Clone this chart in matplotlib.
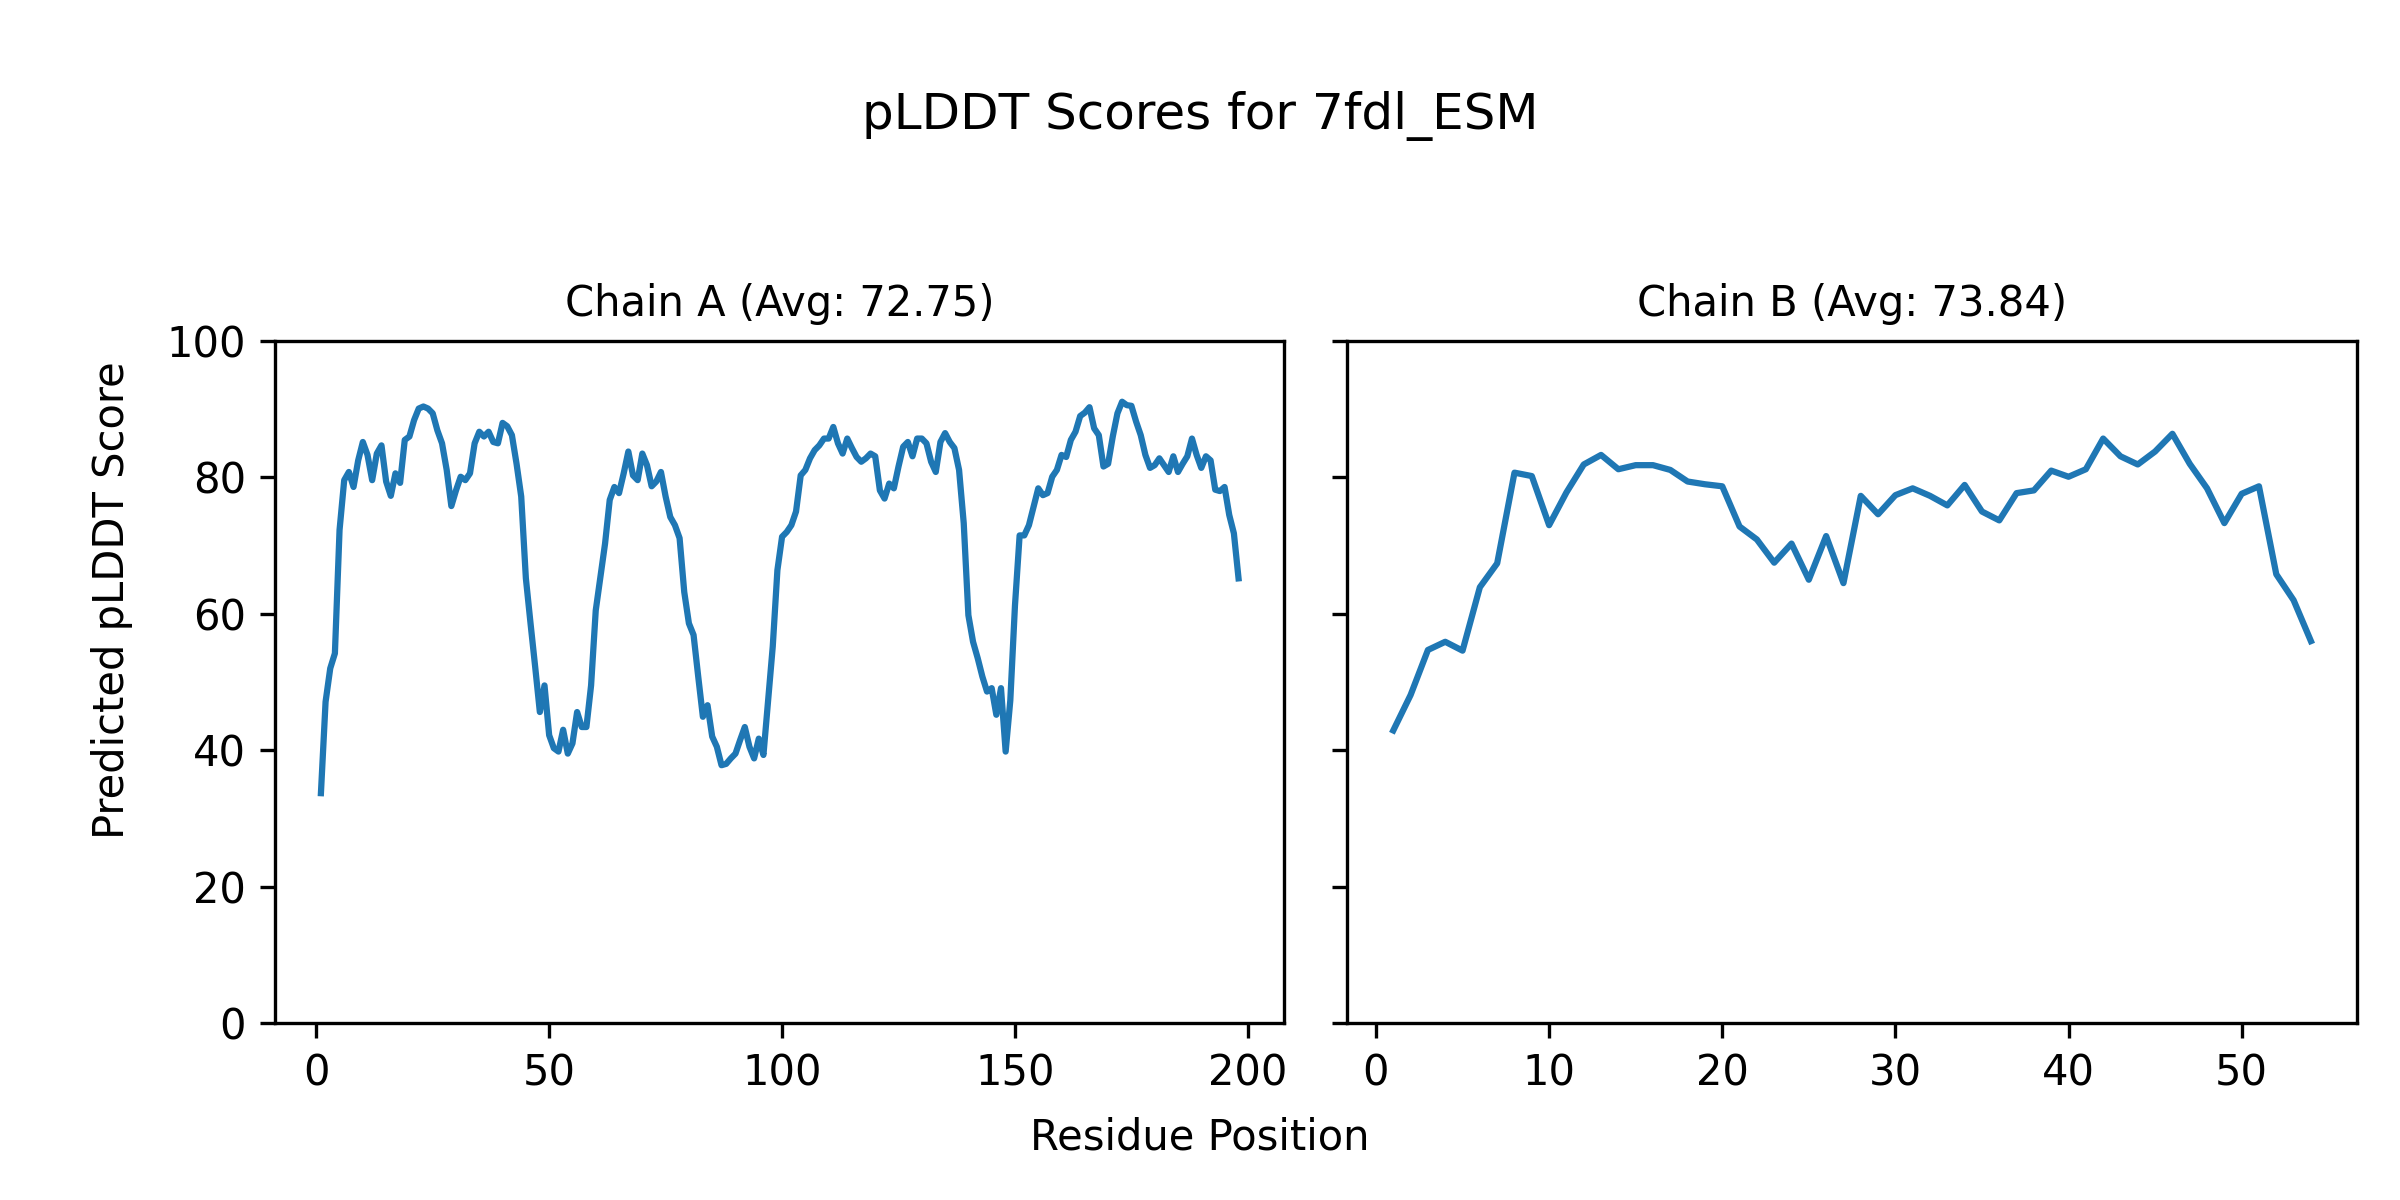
"""pLDDT por residuo para 7fdl_ESM, cadeias A e B lado a lado."""
import matplotlib

matplotlib.use("Agg")
import matplotlib.pyplot as plt
import numpy as np

NOME = "7fdl_ESM"

# cadeia A: residuos 1..198
plddt_a = [
    33.7, 47.1, 52.0, 54.2, 72.3, 79.6, 80.8, 78.6, 82.5, 85.2,
    83.3, 79.6, 83.5, 84.7, 79.4, 77.3, 80.6, 79.2, 85.5, 86.0,
    88.4, 90.1, 90.4, 90.1, 89.4, 86.9, 85.0, 81.1, 75.8, 78.1,
    80.1, 79.6, 80.6, 85.0, 86.7, 86.0, 86.7, 85.2, 85.0, 88.0,
    87.5, 86.2, 82.0, 77.2, 65.2, 58.6, 52.2, 45.6, 49.5, 42.2,
    40.3, 39.8, 43.0, 39.5, 41.0, 45.6, 43.4, 43.4, 49.5, 60.5,
    65.4, 70.3, 76.7, 78.6, 77.7, 80.6, 83.8, 80.3, 79.6, 83.5,
    81.8, 78.7, 79.4, 80.8, 77.2, 74.2, 73.0, 71.1, 63.2, 58.6,
    56.9, 50.8, 44.9, 46.6, 42.0, 40.5, 37.8, 38.0, 38.8, 39.5,
    41.5, 43.4, 40.5, 38.8, 41.7, 39.3, 47.3, 55.2, 66.4, 71.3,
    72.0, 73.0, 75.0, 80.3, 81.1, 82.8, 84.0, 84.7, 85.7, 85.7,
    87.4, 85.0, 83.5, 85.7, 84.3, 83.0, 82.3, 82.8, 83.5, 83.1,
    78.1, 76.9, 79.1, 78.4, 81.6, 84.5, 85.2, 83.1, 85.7, 85.7,
    85.0, 82.3, 80.8, 85.2, 86.5, 85.2, 84.3, 81.1, 73.3, 59.8,
    55.9, 53.5, 50.8, 48.6, 49.1, 45.2, 49.1, 39.8, 47.3, 61.2,
    71.5, 71.5, 73.0, 75.7, 78.4, 77.4, 77.7, 80.1, 81.1, 83.3,
    83.0, 85.5, 86.7, 89.0, 89.5, 90.3, 87.2, 86.2, 81.6, 82.0,
    86.0, 89.4, 91.1, 90.6, 90.5, 88.2, 86.2, 83.3, 81.4, 81.8,
    82.8, 81.8, 80.8, 83.1, 80.8, 82.0, 83.1, 85.7, 83.3, 81.4,
    83.1, 82.5, 78.2, 78.0, 78.6, 74.5, 71.8, 65.2,
]

# cadeia B: residuos 1..54
plddt_b = [
    42.9, 48.1, 54.7, 55.9, 54.6, 63.9, 67.4, 80.7, 80.2, 73.0,
    77.8, 81.9, 83.3, 81.2, 81.8, 81.8, 81.1, 79.4, 79.0, 78.7,
    72.8, 70.9, 67.5, 70.3, 65.0, 71.4, 64.5, 77.3, 74.6, 77.4,
    78.4, 77.3, 75.9, 78.9, 75.0, 73.7, 77.7, 78.1, 81.0, 80.1,
    81.2, 85.7, 83.1, 81.9, 83.8, 86.4, 82.0, 78.4, 73.3, 77.6,
    78.7, 65.8, 62.0, 56.0,
]

cadeias = ["A", "B"]
medias = [72.75, 73.84]


def main() -> None:
    fig, axes = plt.subplots(1, 2, figsize=(8, 4), dpi=300, sharey=True)
    for ax, cadeia, valores, media in zip(axes, cadeias, [plddt_a, plddt_b], medias):
        pos = np.arange(1, len(valores) + 1)
        ax.plot(pos, valores, color="#1f77b4", linewidth=1.5)
        ax.set_title(f"Chain {cadeia} (Avg: {media:.2f})", fontsize=10)
        ax.set_ylim(0, 100)
    fig.suptitle(f"pLDDT Scores for {NOME}", fontsize=12, y=0.903, va="center")
    fig.supxlabel("Residue Position", fontsize=10, y=0.0525, va="center")
    fig.supylabel("Predicted pLDDT Score", fontsize=10, x=0.0467, ha="center")
    fig.subplots_adjust(left=0.1146, right=0.982, bottom=0.1475, top=0.7158, wspace=0.0624)
    fig.savefig("out.png", dpi=300)
    plt.close(fig)


if __name__ == "__main__":
    main()
